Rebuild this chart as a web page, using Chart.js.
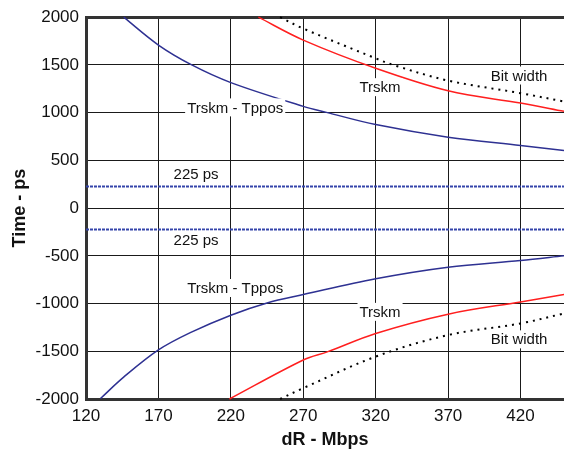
<!DOCTYPE html>
<html>
<head>
<meta charset="utf-8">
<script src="https://cdn.jsdelivr.net/npm/chart.js@4/dist/chart.umd.min.js"></script>
<style>
  html, body { margin: 0; padding: 0; background: #fff; }
  #wrap { width: 564px; height: 449px; }
</style>
</head>
<body>
<div id="wrap"><canvas id="c" width="564" height="449"></canvas></div>
<script>
// ---- data ----
const xTicks = [120, 170, 220, 270, 320, 370, 420];
const yTicks = [-2000, -1500, -1000, -500, 0, 500, 1000, 1500, 2000];

const bluUpX = [146, 170, 193, 220, 270, 286, 320, 370, 420, 450];
const bluUpY = [2000, 1708, 1500, 1315, 1066, 1003, 875, 743, 656, 604];

const bluLoX = [130, 146, 170, 192, 220, 245, 270, 320, 370, 420, 450];
const bluLoY = [-1995, -1771, -1486, -1305, -1122, -994, -906, -740, -619, -549, -500];

const redUpX = [239, 270, 320, 370, 420, 450];
const redUpY = [2000, 1760, 1465, 1229, 1100, 1014];

const redLoX = [219, 270, 287, 320, 370, 420, 450];
const redLoY = [-2000, -1591, -1504, -1313, -1111, -983, -906];

const bitUpX = [254, 270, 320, 332, 370, 420, 450];
const bitUpY = [2000, 1881, 1569, 1500, 1336, 1204, 1117];

const bitLoX = [254, 270, 320, 370, 420, 450];
const bitLoY = [-2000, -1886, -1556, -1330, -1208, -1104];

const refX = [120, 450];
const refUpY = [225, 225];
const refLoY = [-225, -225];

const labelText = ['Trskm - Tppos', 'Trskm', 'Bit width', '225 ps', '225 ps', 'Trskm - Tppos', 'Trskm', 'Bit width'];
const labelX    = [223, 323, 419, 196, 196, 223, 323, 419];
const labelY    = [1055, 1267, 1389, 360, -330, -837, -1087, -1375];

// ---- helpers ----
const pts = (xs, ys) => xs.map((x, i) => ({ x: x, y: ys[i] }));
const FONT = "'Liberation Sans', Arial, Helvetica, sans-serif";

const labelPlugin = {
  id: 'labels',
  afterDatasetsDraw(chart) {
    const ctx = chart.ctx;
    const xs = chart.scales.x, ys = chart.scales.y;
    ctx.save();
    ctx.font = '15px ' + FONT;
    ctx.textAlign = 'center';
    ctx.textBaseline = 'middle';
    labelText.forEach((t, i) => {
      const px = xs.getPixelForValue(labelX[i]);
      const py = ys.getPixelForValue(labelY[i]);
      const w = ctx.measureText(t).width;
      ctx.fillStyle = '#fff';
      ctx.fillRect(px - w / 2 - 2, py - 9, w + 4, 18);
      ctx.fillStyle = '#111';
      ctx.fillText(t, px, py + 1);
    });
    ctx.restore();
  }
};

const BLUE = '#2e3192';
const RED = '#ff1f1f';

const lineDs = (data, color, extra) => Object.assign({
  data: data,
  borderColor: color,
  borderWidth: 1.5,
  pointRadius: 0,
  fill: false,
  tension: 0.35,
  clip: 2
}, extra || {});

new Chart(document.getElementById('c'), {
  type: 'line',
  data: {
    datasets: [
      lineDs(pts(refX, refUpY), '#3444aa', { borderWidth: 2, borderDash: [3, 1], tension: 0 }),
      lineDs(pts(refX, refLoY), '#3444aa', { borderWidth: 2, borderDash: [3, 1], tension: 0 }),
      lineDs(pts(bluUpX, bluUpY), BLUE),
      lineDs(pts(bluLoX, bluLoY), BLUE),
      lineDs(pts(redUpX, redUpY), RED),
      lineDs(pts(redLoX, redLoY), RED),
      lineDs(pts(bitUpX, bitUpY), '#000', { borderWidth: 2, borderDash: [2, 5] }),
      lineDs(pts(bitLoX, bitLoY), '#000', { borderWidth: 2, borderDash: [2, 5] })
    ]
  },
  options: {
    responsive: false,
    devicePixelRatio: 1,
    animation: false,
    layout: { padding: { top: 15, right: 0, left: 0, bottom: 0 } },
    plugins: { legend: { display: false }, tooltip: { enabled: false } },
    scales: {
      x: {
        type: 'linear',
        min: 120,
        max: 450,
        afterBuildTicks: s => { s.ticks = xTicks.map(v => ({ value: v })); },
        afterFit: s => { s.height = 50; },
        ticks: { font: { family: FONT, size: 17 }, color: '#111', padding: 7, maxRotation: 0, autoSkip: false,
                 callback: v => String(v) },
        grid: { color: '#1a1a1a', lineWidth: 1, drawTicks: false },
        border: { color: '#333', width: 3 },
        title: { display: true, text: 'dR - Mbps', color: '#111',
                 font: { family: FONT, size: 18, weight: 'bold', lineHeight: 1 }, padding: { top: 0, bottom: 0 } }
      },
      y: {
        type: 'linear',
        min: -2000,
        max: 2000,
        afterBuildTicks: s => { s.ticks = yTicks.map(v => ({ value: v })); },
        afterFit: s => { s.width = 86; },
        ticks: { font: { family: FONT, size: 17 }, color: '#111', padding: 7, autoSkip: false,
                 callback: v => String(v) },
        grid: {
          color: c => (c.tick && c.tick.value === 2000) ? '#333' : '#1a1a1a',
          lineWidth: c => (c.tick && c.tick.value === 2000) ? 3 : 1,
          drawTicks: false
        },
        border: { color: '#333', width: 3 },
        title: { display: true, text: 'Time - ps', color: '#111',
                 font: { family: FONT, size: 18, weight: 'bold', lineHeight: 1 }, padding: { top: 11, bottom: 0 } }
      }
    }
  },
  plugins: [labelPlugin]
});
</script>
</body>
</html>
